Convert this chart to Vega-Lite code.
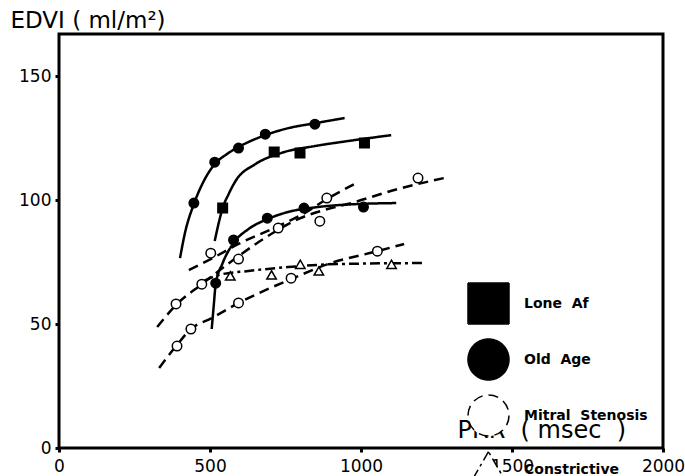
{
  "$schema": "https://vega.github.io/schema/vega-lite/v6.json",
  "width": 685,
  "height": 476,
  "autosize": {"type": "fit", "contains": "padding"},
  "padding": {"left": 10, "top": 9, "right": 0, "bottom": 2},
  "background": "white",
  "config": {
    "view": {"stroke": "black", "strokeWidth": 3},
    "axis": {"grid": false, "domain": false, "labelFont": "DejaVu Sans", "labelColor": "black", "titleFont": "DejaVu Sans", "titleColor": "black", "titleFontWeight": "normal", "tickColor": "black"},
    "legend": {"labelFont": "DejaVu Sans", "labelColor": "black"}
  },
  "datasets": {
    "curves": [
      {"series": "Lone Af", "curve": "LA1", "prr": 515.6, "edvi": 83.5},
      {"series": "Lone Af", "curve": "LA1", "prr": 528.7, "edvi": 90.7},
      {"series": "Lone Af", "curve": "LA1", "prr": 541.9, "edvi": 96.8},
      {"series": "Lone Af", "curve": "LA1", "prr": 561.6, "edvi": 102.4},
      {"series": "Lone Af", "curve": "LA1", "prr": 584.6, "edvi": 107.7},
      {"series": "Lone Af", "curve": "LA1", "prr": 650.2, "edvi": 114.5},
      {"series": "Lone Af", "curve": "LA1", "prr": 735.6, "edvi": 119},
      {"series": "Lone Af", "curve": "LA1", "prr": 847.3, "edvi": 121.8},
      {"series": "Lone Af", "curve": "LA1", "prr": 955.7, "edvi": 123.8},
      {"series": "Lone Af", "curve": "LA1", "prr": 1100, "edvi": 126.2},
      {"series": "Old Age", "curve": "OA1", "prr": 400.7, "edvi": 76.6},
      {"series": "Old Age", "curve": "OA1", "prr": 417, "edvi": 86.7},
      {"series": "Old Age", "curve": "OA1", "prr": 446.6, "edvi": 98.4},
      {"series": "Old Age", "curve": "OA1", "prr": 479.5, "edvi": 107.7},
      {"series": "Old Age", "curve": "OA1", "prr": 515.6, "edvi": 114.5},
      {"series": "Old Age", "curve": "OA1", "prr": 555, "edvi": 118.5},
      {"series": "Old Age", "curve": "OA1", "prr": 594.4, "edvi": 121.4},
      {"series": "Old Age", "curve": "OA1", "prr": 683, "edvi": 126.2},
      {"series": "Old Age", "curve": "OA1", "prr": 758.6, "edvi": 129},
      {"series": "Old Age", "curve": "OA1", "prr": 847.3, "edvi": 131},
      {"series": "Old Age", "curve": "OA1", "prr": 945.8, "edvi": 133.1},
      {"series": "Old Age", "curve": "OA2", "prr": 505.7, "edvi": 48},
      {"series": "Old Age", "curve": "OA2", "prr": 512.3, "edvi": 57.3},
      {"series": "Old Age", "curve": "OA2", "prr": 518.9, "edvi": 66.1},
      {"series": "Old Age", "curve": "OA2", "prr": 541.9, "edvi": 74.6},
      {"series": "Old Age", "curve": "OA2", "prr": 578, "edvi": 82.7},
      {"series": "Old Age", "curve": "OA2", "prr": 627.3, "edvi": 88.3},
      {"series": "Old Age", "curve": "OA2", "prr": 689.7, "edvi": 92.3},
      {"series": "Old Age", "curve": "OA2", "prr": 758.6, "edvi": 95.2},
      {"series": "Old Age", "curve": "OA2", "prr": 857.1, "edvi": 97.2},
      {"series": "Old Age", "curve": "OA2", "prr": 988.5, "edvi": 98.4},
      {"series": "Old Age", "curve": "OA2", "prr": 1116.6, "edvi": 98.8},
      {"series": "Mitral Stenosis", "curve": "MS1", "prr": 430.2, "edvi": 71.8},
      {"series": "Mitral Stenosis", "curve": "MS1", "prr": 502.5, "edvi": 76.2},
      {"series": "Mitral Stenosis", "curve": "MS1", "prr": 594.4, "edvi": 82.3},
      {"series": "Mitral Stenosis", "curve": "MS1", "prr": 725.8, "edvi": 89.5},
      {"series": "Mitral Stenosis", "curve": "MS1", "prr": 807.9, "edvi": 94.4},
      {"series": "Mitral Stenosis", "curve": "MS1", "prr": 886.7, "edvi": 100.4},
      {"series": "Mitral Stenosis", "curve": "MS1", "prr": 978.7, "edvi": 106.5},
      {"series": "Mitral Stenosis", "curve": "MS2", "prr": 325.1, "edvi": 48.8},
      {"series": "Mitral Stenosis", "curve": "MS2", "prr": 387.5, "edvi": 57.7},
      {"series": "Mitral Stenosis", "curve": "MS2", "prr": 472.9, "edvi": 66.1},
      {"series": "Mitral Stenosis", "curve": "MS2", "prr": 528.7, "edvi": 71.4},
      {"series": "Mitral Stenosis", "curve": "MS2", "prr": 594.4, "edvi": 77.4},
      {"series": "Mitral Stenosis", "curve": "MS2", "prr": 676.5, "edvi": 84.3},
      {"series": "Mitral Stenosis", "curve": "MS2", "prr": 791.5, "edvi": 92.3},
      {"series": "Mitral Stenosis", "curve": "MS2", "prr": 890, "edvi": 96.4},
      {"series": "Mitral Stenosis", "curve": "MS2", "prr": 955.7, "edvi": 98.4},
      {"series": "Mitral Stenosis", "curve": "MS2", "prr": 1119.9, "edvi": 104.4},
      {"series": "Mitral Stenosis", "curve": "MS2", "prr": 1290.6, "edvi": 109.3},
      {"series": "Mitral Stenosis", "curve": "MS3", "prr": 331.7, "edvi": 32.3},
      {"series": "Mitral Stenosis", "curve": "MS3", "prr": 387.5, "edvi": 41.1},
      {"series": "Mitral Stenosis", "curve": "MS3", "prr": 436.8, "edvi": 48},
      {"series": "Mitral Stenosis", "curve": "MS3", "prr": 505.7, "edvi": 52.4},
      {"series": "Mitral Stenosis", "curve": "MS3", "prr": 594.4, "edvi": 58.5},
      {"series": "Mitral Stenosis", "curve": "MS3", "prr": 676.5, "edvi": 63.3},
      {"series": "Mitral Stenosis", "curve": "MS3", "prr": 768.5, "edvi": 68.1},
      {"series": "Mitral Stenosis", "curve": "MS3", "prr": 890, "edvi": 74.2},
      {"series": "Mitral Stenosis", "curve": "MS3", "prr": 1054.2, "edvi": 79.4},
      {"series": "Mitral Stenosis", "curve": "MS3", "prr": 1142.9, "edvi": 82.3},
      {"series": "Constrictive Pericarditis", "curve": "CP1", "prr": 479.5, "edvi": 67.3},
      {"series": "Constrictive Pericarditis", "curve": "CP1", "prr": 528.7, "edvi": 69.8},
      {"series": "Constrictive Pericarditis", "curve": "CP1", "prr": 627.3, "edvi": 71.4},
      {"series": "Constrictive Pericarditis", "curve": "CP1", "prr": 758.6, "edvi": 73},
      {"series": "Constrictive Pericarditis", "curve": "CP1", "prr": 922.8, "edvi": 74.2},
      {"series": "Constrictive Pericarditis", "curve": "CP1", "prr": 1202, "edvi": 74.6}
    ],
    "points": [
      {"group": "Lone Af", "prr": 541.9, "edvi": 96.8},
      {"group": "Lone Af", "prr": 712.6, "edvi": 119.4},
      {"group": "Lone Af", "prr": 798, "edvi": 119},
      {"group": "Lone Af", "prr": 1011.5, "edvi": 123},
      {"group": "Old Age", "prr": 446.6, "edvi": 98.8},
      {"group": "Old Age", "prr": 515.6, "edvi": 115.3},
      {"group": "Old Age", "prr": 594.4, "edvi": 121},
      {"group": "Old Age", "prr": 683, "edvi": 126.6},
      {"group": "Old Age", "prr": 847.3, "edvi": 130.6},
      {"group": "Old Age", "prr": 518.9, "edvi": 66.5},
      {"group": "Old Age", "prr": 578, "edvi": 83.9},
      {"group": "Old Age", "prr": 689.7, "edvi": 92.7},
      {"group": "Old Age", "prr": 811.2, "edvi": 96.8},
      {"group": "Old Age", "prr": 1008.2, "edvi": 97.2},
      {"group": "Mitral Stenosis", "prr": 502.5, "edvi": 78.6},
      {"group": "Mitral Stenosis", "prr": 725.8, "edvi": 88.7},
      {"group": "Mitral Stenosis", "prr": 886.7, "edvi": 100.8},
      {"group": "Mitral Stenosis", "prr": 387.5, "edvi": 58.1},
      {"group": "Mitral Stenosis", "prr": 472.9, "edvi": 66.1},
      {"group": "Mitral Stenosis", "prr": 594.4, "edvi": 76.2},
      {"group": "Mitral Stenosis", "prr": 863.7, "edvi": 91.5},
      {"group": "Mitral Stenosis", "prr": 1188.8, "edvi": 108.9},
      {"group": "Mitral Stenosis", "prr": 390.8, "edvi": 41.1},
      {"group": "Mitral Stenosis", "prr": 436.8, "edvi": 48},
      {"group": "Mitral Stenosis", "prr": 594.4, "edvi": 58.5},
      {"group": "Mitral Stenosis", "prr": 768.5, "edvi": 68.5},
      {"group": "Mitral Stenosis", "prr": 1054.2, "edvi": 79.4},
      {"group": "Constrictive Pericarditis", "prr": 567.2, "edvi": 69.4},
      {"group": "Constrictive Pericarditis", "prr": 703.8, "edvi": 69.8},
      {"group": "Constrictive Pericarditis", "prr": 799, "edvi": 74.1},
      {"group": "Constrictive Pericarditis", "prr": 860.4, "edvi": 71.4},
      {"group": "Constrictive Pericarditis", "prr": 1101.1, "edvi": 74.1}
    ]
  },
  "encoding": {
    "x": {
      "field": "prr", "type": "quantitative",
      "scale": {"domain": [0, 2000], "nice": false, "zero": false},
      "axis": {
        "title": "PRR\u00a0\u00a0( msec\u00a0\u00a0)", "titleFontSize": 24, "titleAlign": "left", "titleBaseline": "alphabetic",
        "titleX": 398, "titleY": -11, "titleAnchor": null,
        "values": [0, 500, 1000, 1500, 2000], "format": "d", "labelFontSize": 17, "labelPadding": 6,
        "tickSize": 4, "tickWidth": 3, "labelFlush": false, "labelOverlap": false
      }
    },
    "y": {
      "field": "edvi", "type": "quantitative",
      "scale": {"domain": [0, 167], "nice": false, "zero": false},
      "axis": {
        "title": "EDVI\u00a0( ml/m\u00b2)", "titleFontSize": 23, "titleAngle": 0, "titleAlign": "left", "titleBaseline": "alphabetic",
        "titleX": -49, "titleY": -7, "titleAnchor": null,
        "values": [0, 50, 100, 150], "labelFontSize": 17, "labelPadding": 4,
        "tickSize": 4, "tickWidth": 3, "labelFlush": false, "labelOverlap": false
      }
    }
  },
  "layer": [
    {
      "data": {"name": "curves"},
      "mark": {"type": "line", "interpolate": "monotone", "color": "black", "strokeWidth": 2.5},
      "encoding": {
        "detail": {"field": "curve", "type": "nominal"},
        "strokeDash": {
          "field": "series", "type": "nominal",
          "scale": {
            "domain": ["Lone Af", "Old Age", "Mitral Stenosis", "Constrictive Pericarditis"],
            "range": [[1, 0], [1, 0], [10, 6], [10, 4, 3, 4]]
          },
          "legend": {
            "title": null, "orient": "none", "legendX": 408, "legendY": 248, "padding": 0,
            "symbolSize": 1681, "symbolStrokeWidth": 1.5, "symbolStrokeColor": "black", "labelFontSize": 14, "labelFontWeight": "bold",
            "labelOffset": 14, "rowPadding": 9,
            "labelExpr": "datum.label === 'Constrictive Pericarditis' ? ['Constrictive', 'Pericarditis'] : datum.label === 'Lone Af' ? 'Lone\u00a0\u00a0Af' : datum.label === 'Old Age' ? 'Old\u00a0\u00a0Age' : datum.label === 'Mitral Stenosis' ? 'Mitral\u00a0\u00a0Stenosis' : datum.label",
            "encode": {
              "symbols": {
                "update": {
                  "shape": {"signal": "datum.value === 'Lone Af' ? 'M-1,-0.19H-0.62V0.19H-1Z M-0.62,0H0.62 M0.62,-0.19H1V0.19H0.62Z' : datum.value === 'Old Age' ? 'M-1,0A0.2,0.2 0 1 1 -0.6,0A0.2,0.2 0 1 1 -1,0Z M-0.6,0H0.6 M0.6,0A0.2,0.2 0 1 1 1,0A0.2,0.2 0 1 1 0.6,0Z' : datum.value === 'Mitral Stenosis' ? 'M-1,0A0.17,0.17 0 1 1 -0.66,0A0.17,0.17 0 1 1 -1,0Z M-0.6,0H-0.22 M-0.04,0H0.34 M0.5,0H0.66 M0.66,0A0.17,0.17 0 1 1 1,0A0.17,0.17 0 1 1 0.66,0Z' : 'M-1,0.17L-0.82,-0.2L-0.64,0.17Z M-0.62,0H-0.3 M-0.18,0H-0.06 M0.06,0H0.38 M0.5,0H0.64 M0.64,0.17L0.82,-0.2L1,0.17Z'"},
                  "fill": {"signal": "datum.value === 'Lone Af' || datum.value === 'Old Age' ? 'black' : 'white'"},
                  "stroke": {"value": "black"},
                  "strokeDash": {"value": [1, 0]},
                  "strokeWidth": {"value": 1.5},
                  "opacity": {"value": 1},
                  "size": {"value": 1681}
                }
              }
            }
          }
        }
      }
    },
    {
      "data": {"name": "points"},
      "mark": {"type": "point", "filled": true, "stroke": "black", "strokeWidth": 1.5, "opacity": 1, "size": 90},
      "encoding": {
        "shape": {
          "field": "group", "type": "nominal", "legend": null,
          "scale": {
            "domain": ["Lone Af", "Old Age", "Mitral Stenosis", "Constrictive Pericarditis"],
            "range": ["square", "circle", "circle", "triangle-up"]
          }
        },
        "color": {
          "field": "group", "type": "nominal", "legend": null,
          "scale": {
            "domain": ["Lone Af", "Old Age", "Mitral Stenosis", "Constrictive Pericarditis"],
            "range": ["black", "black", "white", "white"]
          }
        }
      }
    }
  ]
}
